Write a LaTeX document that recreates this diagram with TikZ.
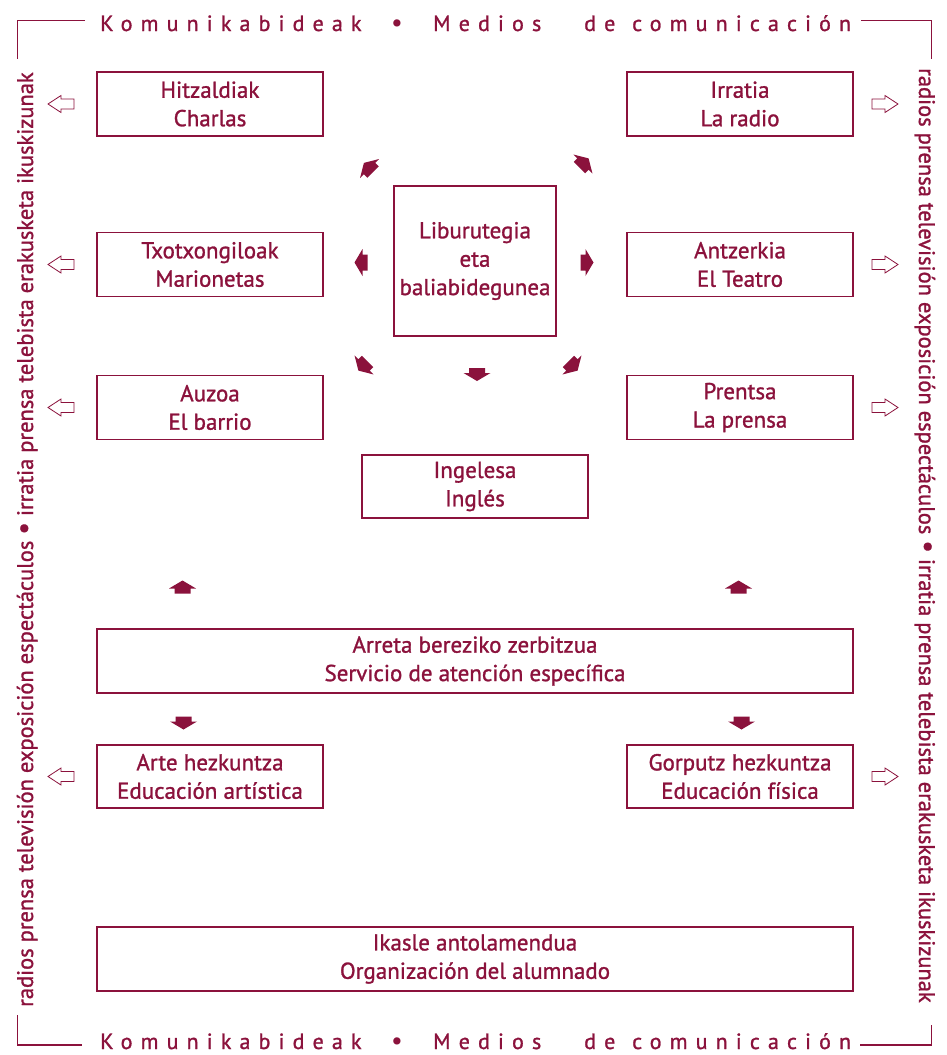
\documentclass[tikz,border=0pt]{standalone}
\usepackage{fontspec}
\setmainfont{PT Sans}
\definecolor{wine}{RGB}{139,18,60}
\newcommand\bigdot{{\fontsize{28}{28}\selectfont •}}
\newcommand\heavier{\addfontfeature{FakeBold=1.2}}
\tikzset{
  harrow/.pic={\fill[wine] (-6.5,-8) -- (-1.5,-8) -- (-1.5,-13.5) -- (6.5,0) -- (-1.5,13.5) -- (-1.5,8) -- (-6.5,8) -- cycle;},
  sarrow/.pic={\draw[wine, line width=0.8pt, fill=white] (0,-5) -- (13,-5) -- (13,-8.5) -- (26,0) -- (13,8.5) -- (13,5) -- (0,5) -- cycle;}
}
\begin{document}
\begin{tikzpicture}[x=1pt,y=-1pt,
  box/.style={draw=wine, line width=1.1pt, text=wine, align=center,
    font=\fontsize{23}{28.4}\selectfont\heavier, inner sep=0pt,
    minimum width=226pt, minimum height=64pt},
  wide/.style={box, minimum width=756pt},
  framew/.style={text=wine, font=\fontsize{22}{26}\selectfont\addfontfeature{LetterSpace=37,FakeBold=1.2}, anchor=base west, inner sep=0pt},
  sidet/.style={text=wine, font=\fontsize{22.5}{26}\selectfont\heavier, anchor=base west, inner sep=0pt},
  frame/.style={draw=wine, line width=1.1pt}]
\useasboundingbox (0,0) rectangle (947,1055);
% boxes
\node[box] (hit) at (210,104) {Hitzaldiak\\Charlas};
\node[box] (irr) at (740,104) {Irratia\\La radio};
\node[box] (txo) at (210,264.5) {Txotxongiloak\\Marionetas};
\node[box] (ant) at (740,264.5) {Antzerkia\\El Teatro};
\node[box, minimum width=162pt, minimum height=150pt] (lib) at (475,261) {Liburutegia\\eta\\baliabidegunea};
\node[box] (auz) at (210,407.5) {Auzoa\\El barrio};
\node[box] (pre) at (740,407.5) {Prentsa\\La prensa};
\node[box, minimum height=63pt] (ing) at (475,486.5) {Ingelesa\\Inglés};
\node[wide] (arr) at (475,661) {Arreta bereziko zerbitzua\\Servicio de atención específica};
\node[box, minimum height=63pt] (art) at (210,776.5) {Arte hezkuntza\\Educación artística};
\node[box, minimum height=63pt] (gor) at (740,776.5) {Gorputz hezkuntza\\Educación física};
\node[wide] (ika) at (475,959) {Ikasle antolamendua\\Organización del alumnado};
% frame texts
\foreach \yy/\nm in {31/t,1049/b}{
  \node[framew] (k\nm) at (100,\yy) {Komunikabideak};
  \node[text=wine, font=\fontsize{26}{26}\selectfont, anchor=base, inner sep=0pt, text depth=0pt] (d\nm) at (397,\yy) {•};
  \node[framew] (m\nm) at (433,\yy) {Medios};
  \node[framew] (e\nm) at (584,\yy) {de};
  \node[framew] (c\nm) at (632,\yy) {comunicación};
}
\node[sidet, rotate=90] (lt) at (33,1007) {radios prensa televisión exposición espectáculos \bigdot{} irratia prensa telebista erakusketa ikuskizunak};
\node[sidet, rotate=-90] (rt) at (919,68) {radios prensa televisión exposición espectáculos \bigdot{} irratia prensa telebista erakusketa ikuskizunak};
% frame corners
\draw[frame] (85,20.7) -- (17.5,20.7) -- (17.5,59);
\draw[frame] (861,20.7) -- (931.5,20.7) -- (931.5,59);
\draw[frame] (17.5,1015) -- (17.5,1045) -- (82,1045);
\draw[frame] (860,1045) -- (931.5,1045) -- (931.5,1025);
% filled arrows
\pic[rotate=135] at (368.5,167.5) {harrow};
\pic[rotate=45] at (584,163) {harrow};
\pic[rotate=180] at (361,262.5) {harrow};
\pic[rotate=0] at (587,262.5) {harrow};
\pic[rotate=-135] at (363,366) {harrow};
\pic[rotate=-90] at (477,374.5) {harrow};
\pic[rotate=-45] at (573,366) {harrow};
\pic[rotate=90] at (182.5,587) {harrow};
\pic[rotate=90] at (738.5,587) {harrow};
\pic[rotate=-90] at (183.5,723) {harrow};
\pic[rotate=-90] at (741.5,723) {harrow};
% side arrows
\foreach \cy in {104,264.5,407.5,776.5}{
  \pic[rotate=180] at (74,\cy) {sarrow};
  \pic at (872,\cy) {sarrow};
}
\end{tikzpicture}
\end{document}
